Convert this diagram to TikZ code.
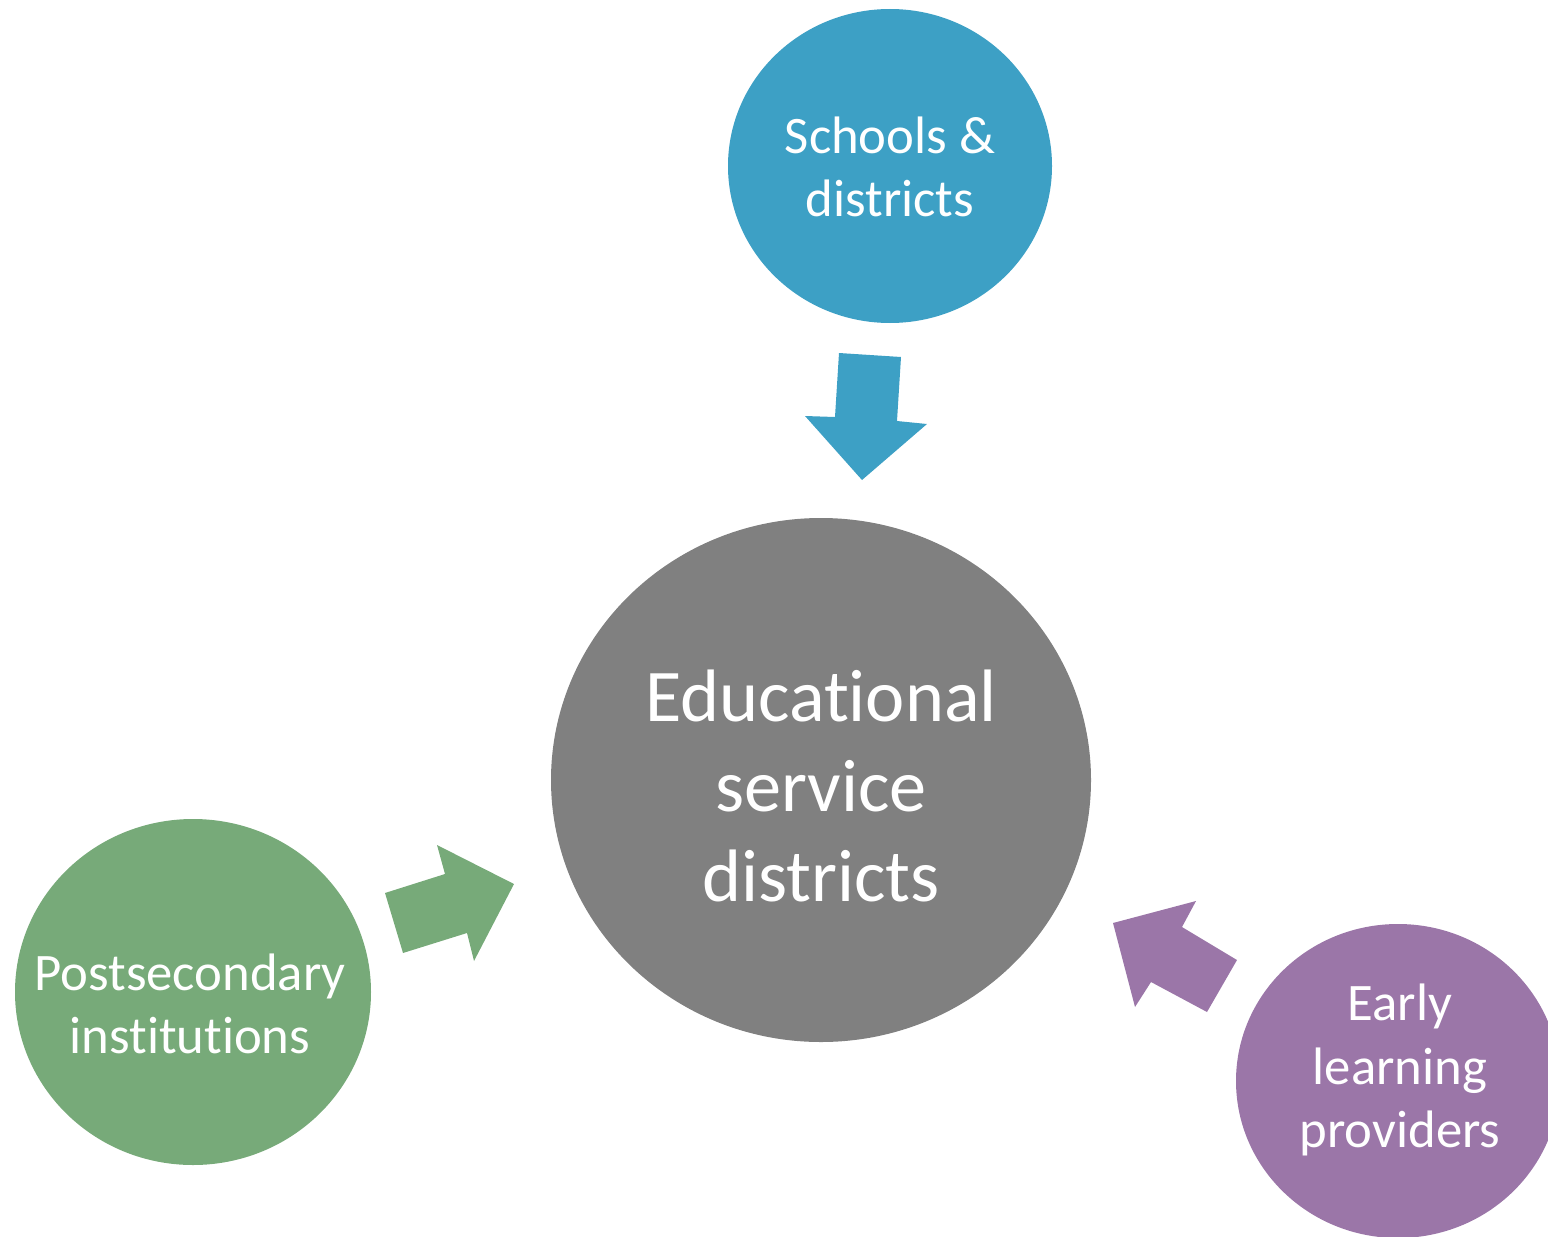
\documentclass[tikz,border=0pt]{standalone}
\usepackage{fontspec}
\setmainfont[Ligatures=NoCommon]{Carlito}
\usepackage{xcolor}
\usetikzlibrary{shapes.geometric}
\definecolor{esdgray}{HTML}{808080}
\definecolor{esdblue}{HTML}{3DA0C5}
\definecolor{esdgreen}{HTML}{77AA79}
\definecolor{esdpurple}{HTML}{9B76A8}

\begin{document}
\begin{tikzpicture}[x=0.02cm,y=-0.02cm,
    bubble/.style={ellipse,inner sep=0pt,text=white,align=center},
    smalltxt/.style={font=\fontsize{30}{36}\selectfont},
    bigtxt/.style={font=\fontsize{42.3}{51}\selectfont}]
        \useasboundingbox (0,0) rectangle (1548,1237);
        \clip (0,0) rectangle (1548,1237);
        % circles
        \fill[esdgray]   (821,780)  ellipse [x radius=270, y radius=262];
        \fill[esdblue]   (890,166)  ellipse [x radius=162, y radius=157];
        \fill[esdgreen]  (193,992)  ellipse [x radius=178, y radius=173];
        \fill[esdpurple] (1398,1081) ellipse [x radius=162, y radius=157];
        \node[bubble,bigtxt]   (esd)      at (821,786)  {Educational\\service\\districts};
        \node[bubble,smalltxt] (schools)  at (890,167)  {Schools \&\\districts};
        \node[bubble,smalltxt] (postsec)  at (190,1004) {Postsecondary\\institutions};
        \node[bubble,smalltxt] (early)    at (1400,1070) {Early\\learning\\providers};
        % block arrows
        \fill[esdblue]   (839,353) -- (901,357) -- (897,421) -- (927,424) -- (862,480) -- (805,416) -- (835,417) -- cycle;
        \fill[esdgreen]  (385,893) -- (445,874) -- (437,845) -- (514,884) -- (474,961) -- (467,933) -- (403,953) -- cycle;
        \fill[esdpurple] (1237,960) -- (1207,1012) -- (1151,982) -- (1135,1007) -- (1113,923) -- (1196,901) -- (1182,927) -- cycle;
      \end{tikzpicture}
\end{document}
